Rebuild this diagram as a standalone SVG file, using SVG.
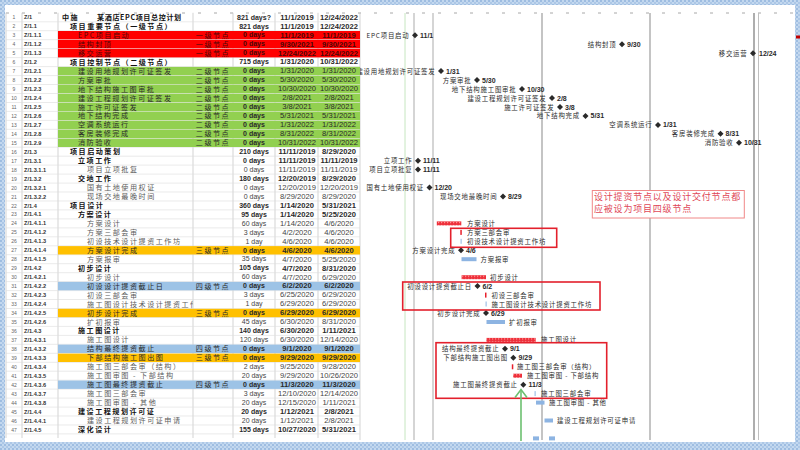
<svg xmlns="http://www.w3.org/2000/svg" width="800" height="450" viewBox="0 0 800 450">
<defs>
<style>
.nm{font-family:"Noto Sans CJK SC",sans-serif;font-size:7.1px;letter-spacing:1.5px;fill:#5c5c5c}
.tp{text-anchor:middle}
.b{font-weight:bold;fill:#111}
.du{font-family:"Liberation Sans",sans-serif;font-size:7px;text-anchor:middle;fill:#444}
.dt{font-family:"Liberation Sans",sans-serif;font-size:7.6px;text-anchor:middle;fill:#444}
.wbs{font-family:"Liberation Sans",sans-serif;font-size:5.6px;font-weight:bold;fill:#333}
.num{font-family:"Liberation Sans",sans-serif;font-size:5px;fill:#666;text-anchor:middle}
.rt{fill:#4a0808}
.dk{fill:#2a2a2a}
.k{font-weight:bold}
.red{fill:#ff0000}
.grn{fill:#92d050}
.org{fill:#ffc000}
.blu{fill:#9dc3e6}
.gl{font-family:"Noto Sans CJK SC",sans-serif;font-size:6.4px;letter-spacing:.8px;fill:#2a2a2a}
.ge{text-anchor:end}
.gd{font-family:"Liberation Sans",sans-serif;font-size:7px;font-weight:bold;fill:#2a2a2a}
.cb{fill:url(#rp)}
.bb{fill:#8db4e2}
.box{fill:none;stroke:#e3202c;stroke-width:1.6}
.nt{font-family:"Noto Sans CJK SC",sans-serif;font-size:9px;letter-spacing:.8px;fill:#e04858}
</style>
<pattern id="fp" width="4" height="4" patternUnits="userSpaceOnUse">
<rect width="4" height="4" fill="#c3d8ef"/>
<circle cx="1" cy="1" r="0.8" fill="#6f9bd0"/>
<circle cx="3" cy="3" r="0.8" fill="#8fb2dc"/>
</pattern>
<pattern id="rp" width="3" height="3" patternUnits="userSpaceOnUse">
<rect width="3" height="3" fill="#ee2f3a"/>
<rect width="1.2" height="1.2" fill="#ff9a9a"/>
</pattern>
<path id="dm" d="M0,-3 L3,0 L0,3 L-3,0Z" fill="#2a2a2a"/>
<clipPath id="gc" clipPathUnits="userSpaceOnUse"><rect x="360" y="-20" width="436" height="40"/></clipPath>
<clipPath id="nc" clipPathUnits="userSpaceOnUse"><rect x="58" y="-20" width="135" height="40"/></clipPath>
</defs>

<rect x="0" y="0" width="800" height="450" fill="url(#fp)"/>
<rect x="5" y="5" width="790" height="437" fill="#ffffff"/>

<g id="grid">
<line x1="6" y1="13" x2="795" y2="13" stroke="#a8a8a8" stroke-width="1" stroke-dasharray="3 13"/>
<path d="M6,12.8V438 M22,12.8V438 M58,12.8V438 M193,12.8V438 M233,12.8V438 M275,12.8V438 M318,12.8V438 M360,12.8V440" stroke="#c8c8c8" stroke-width="0.8" fill="none"/>
<path d="M405,13V440" stroke="#c6e6c0" stroke-width="1"/>
<path d="M414,13V440 M433,13V440" stroke="#c4c4c4" stroke-width="1.4"/>
<path d="M542,13V440 M650,13V440" stroke="#acacac" stroke-width="1.4"/>
<path d="M754,13V440" stroke="#9a9a9a" stroke-width="1.6"/>
<path d="M758.5,13V440" stroke="#c0c0c0" stroke-width="1"/>
<path d="M6,21.8H360 M6,30.7H360 M6,39.7H360 M6,48.7H360 M6,57.6H360 M6,66.6H360 M6,75.6H360 M6,84.5H360 M6,93.5H360 M6,102.5H360 M6,111.4H360 M6,120.4H360 M6,129.3H360 M6,138.3H360 M6,147.2H360 M6,156.2H360 M6,165.1H360 M6,174.1H360 M6,183.1H360 M6,192H360 M6,201H360 M6,209.9H360 M6,218.9H360 M6,227.9H360 M6,236.8H360 M6,245.8H360 M6,254.7H360 M6,263.7H360 M6,272.7H360 M6,281.6H360 M6,290.6H360 M6,299.5H360 M6,308.5H360 M6,317.5H360 M6,326.4H360 M6,335.4H360 M6,344.3H360 M6,353.3H360 M6,362.3H360 M6,371.2H360 M6,380.2H360 M6,389.1H360 M6,398.1H360 M6,407.1H360 M6,416H360 M6,425H360 M6,433.9H360" stroke="#dcdcdc" stroke-width="0.6" fill="none"/>
</g>

<g id="r1" transform="translate(0,12.8)">
<text class="num" x="14" y="6.5">1</text><text class="wbs" x="24" y="6.5">Z/1</text>
<text class="nm b" x="62" y="7">中施</text><text class="nm b" x="97" y="7" style="letter-spacing:.6px">某酒店EPC项目总控计划</text>
<text class="du k dk" x="254" y="6.8">821 days?</text><text class="dt k dk" x="297" y="6.8">11/1/2019</text><text class="dt k dk" x="339" y="6.8">12/24/2022</text>
</g>
<g id="r2" transform="translate(0,21.8)">
<text class="num" x="14" y="6.5">2</text><text class="wbs" x="24" y="6.5">Z/1.1</text>
<text class="nm b" x="70" y="7">项目重要节点（一级节点）</text>
<text class="du k dk" x="254" y="6.8">821 days</text><text class="dt k dk" x="297" y="6.8">11/1/2019</text><text class="dt k dk" x="339" y="6.8">12/24/2022</text>
</g>
<g id="r3" transform="translate(0,30.7)">
<rect class="red" x="58" y="0.3" width="302" height="8.4"/>
<text class="num" x="14" y="6.5">3</text><text class="wbs" x="24" y="6.5">Z/1.1.1</text>
<text class="nm rt" x="78" y="7">EPC项目启动</text><text class="nm tp rt" x="213" y="7">一级节点</text>
<text class="du k rt" x="254" y="6.8">0 days</text><text class="dt k rt" x="297" y="6.8">11/1/2019</text><text class="dt k rt" x="339" y="6.8">11/1/2019</text>
<g clip-path="url(#gc)"><text class="gl ge" x="409.5" y="7">EPC项目启动</text><use href="#dm" x="415" y="4.5"/><text class="gd" x="420" y="7">11/1</text></g>
</g>
<g id="r4" transform="translate(0,39.7)">
<rect class="red" x="58" y="0.3" width="302" height="8.4"/>
<text class="num" x="14" y="6.5">4</text><text class="wbs" x="24" y="6.5">Z/1.1.2</text>
<text class="nm rt" x="78" y="7">结构封顶</text><text class="nm tp rt" x="213" y="7">一级节点</text>
<text class="du k rt" x="254" y="6.8">0 days</text><text class="dt k rt" x="297" y="6.8">9/30/2021</text><text class="dt k rt" x="339" y="6.8">9/30/2021</text>
<g clip-path="url(#gc)"><text class="gl ge" x="616.5" y="7">结构封顶</text><use href="#dm" x="622" y="4.5"/><text class="gd" x="627" y="7">9/30</text></g>
</g>
<g id="r5" transform="translate(0,48.7)">
<rect class="red" x="58" y="0.3" width="302" height="8.4"/>
<text class="num" x="14" y="6.5">5</text><text class="wbs" x="24" y="6.5">Z/1.1.3</text>
<text class="nm rt" x="78" y="7">移交运营</text><text class="nm tp rt" x="213" y="7">一级节点</text>
<text class="du k rt" x="254" y="6.8">0 days</text><text class="dt k rt" x="297" y="6.8">12/24/2022</text><text class="dt k rt" x="339" y="6.8">12/24/2022</text>
<g clip-path="url(#gc)"><text class="gl ge" x="747.5" y="7">移交运营</text><use href="#dm" x="753" y="4.5"/><text class="gd" x="759" y="7">12/24</text></g>
</g>
<g id="r6" transform="translate(0,57.6)">
<text class="num" x="14" y="6.5">6</text><text class="wbs" x="24" y="6.5">Z/1.2</text>
<text class="nm b" x="70" y="7">项目控制节点（二级节点）</text>
<text class="du k dk" x="254" y="6.8">715 days</text><text class="dt k dk" x="297" y="6.8">1/31/2020</text><text class="dt k dk" x="339" y="6.8">10/31/2022</text>
</g>
<g id="r7" transform="translate(0,66.6)">
<rect class="grn" x="58" y="0.3" width="302" height="8.4"/>
<text class="num" x="14" y="6.5">7</text><text class="wbs" x="24" y="6.5">Z/1.2.1</text>
<text class="nm dk" x="78" y="7">建设用地规划许可证签发</text><text class="nm tp dk" x="213" y="7">二级节点</text>
<text class="du k dk" x="254" y="6.8">0 days</text><text class="dt dk" x="297" y="6.8">1/31/2020</text><text class="dt dk" x="339" y="6.8">1/31/2020</text>
<g clip-path="url(#gc)"><text class="gl ge" x="435.5" y="7">建设用地规划许可证签发</text><use href="#dm" x="441" y="4.5"/><text class="gd" x="446" y="7">1/31</text></g>
</g>
<g id="r8" transform="translate(0,75.6)">
<rect class="grn" x="58" y="0.3" width="302" height="8.4"/>
<text class="num" x="14" y="6.5">8</text><text class="wbs" x="24" y="6.5">Z/1.2.2</text>
<text class="nm dk" x="78" y="7">方案审批</text><text class="nm tp dk" x="213" y="7">二级节点</text>
<text class="du k dk" x="254" y="6.8">0 days</text><text class="dt dk" x="297" y="6.8">5/30/2020</text><text class="dt dk" x="339" y="6.8">5/30/2020</text>
<g clip-path="url(#gc)"><text class="gl ge" x="471.5" y="7">方案审批</text><use href="#dm" x="477" y="4.5"/><text class="gd" x="482" y="7">5/30</text></g>
</g>
<g id="r9" transform="translate(0,84.5)">
<rect class="grn" x="58" y="0.3" width="302" height="8.4"/>
<text class="num" x="14" y="6.5">9</text><text class="wbs" x="24" y="6.5">Z/1.2.3</text>
<text class="nm dk" x="78" y="7">地下结构施工图审批</text><text class="nm tp dk" x="213" y="7">二级节点</text>
<text class="du k dk" x="254" y="6.8">0 days</text><text class="dt dk" x="297" y="6.8">10/30/2020</text><text class="dt dk" x="339" y="6.8">10/30/2020</text>
<g clip-path="url(#gc)"><text class="gl ge" x="516.5" y="7">地下结构施工图审批</text><use href="#dm" x="522" y="4.5"/><text class="gd" x="527" y="7">10/30</text></g>
</g>
<g id="r10" transform="translate(0,93.5)">
<rect class="grn" x="58" y="0.3" width="302" height="8.4"/>
<text class="num" x="14" y="6.5">10</text><text class="wbs" x="24" y="6.5">Z/1.2.4</text>
<text class="nm dk" x="78" y="7">建设工程规划许可证签发</text><text class="nm tp dk" x="213" y="7">二级节点</text>
<text class="du k dk" x="254" y="6.8">0 days</text><text class="dt dk" x="297" y="6.8">2/8/2021</text><text class="dt dk" x="339" y="6.8">2/8/2021</text>
<g clip-path="url(#gc)"><text class="gl ge" x="546.5" y="7">建设工程规划许可证签发</text><use href="#dm" x="552" y="4.5"/><text class="gd" x="557" y="7">2/8</text></g>
</g>
<g id="r11" transform="translate(0,102.5)">
<rect class="grn" x="58" y="0.3" width="302" height="8.4"/>
<text class="num" x="14" y="6.5">11</text><text class="wbs" x="24" y="6.5">Z/1.2.5</text>
<text class="nm dk" x="78" y="7">施工许可证签发</text><text class="nm tp dk" x="213" y="7">二级节点</text>
<text class="du k dk" x="254" y="6.8">0 days</text><text class="dt dk" x="297" y="6.8">3/8/2021</text><text class="dt dk" x="339" y="6.8">3/8/2021</text>
<g clip-path="url(#gc)"><text class="gl ge" x="554.5" y="7">施工许可证签发</text><use href="#dm" x="560" y="4.5"/><text class="gd" x="565" y="7">3/8</text></g>
</g>
<g id="r12" transform="translate(0,111.4)">
<rect class="grn" x="58" y="0.3" width="302" height="8.4"/>
<text class="num" x="14" y="6.5">12</text><text class="wbs" x="24" y="6.5">Z/1.2.6</text>
<text class="nm dk" x="78" y="7">地下结构完成</text><text class="nm tp dk" x="213" y="7">二级节点</text>
<text class="du k dk" x="254" y="6.8">0 days</text><text class="dt dk" x="297" y="6.8">5/31/2021</text><text class="dt dk" x="339" y="6.8">5/31/2021</text>
<g clip-path="url(#gc)"><text class="gl ge" x="580" y="7">地下结构完成</text><use href="#dm" x="585.5" y="4.5"/><text class="gd" x="590.5" y="7">5/31</text></g>
</g>
<g id="r13" transform="translate(0,120.4)">
<rect class="grn" x="58" y="0.3" width="302" height="8.4"/>
<text class="num" x="14" y="6.5">13</text><text class="wbs" x="24" y="6.5">Z/1.2.7</text>
<text class="nm dk" x="78" y="7">空调系统运行</text><text class="nm tp dk" x="213" y="7">二级节点</text>
<text class="du k dk" x="254" y="6.8">0 days</text><text class="dt dk" x="297" y="6.8">1/31/2022</text><text class="dt dk" x="339" y="6.8">1/31/2022</text>
<g clip-path="url(#gc)"><text class="gl ge" x="652.5" y="7">空调系统运行</text><use href="#dm" x="658" y="4.5"/><text class="gd" x="663" y="7">1/31</text></g>
</g>
<g id="r14" transform="translate(0,129.3)">
<rect class="grn" x="58" y="0.3" width="302" height="8.4"/>
<text class="num" x="14" y="6.5">14</text><text class="wbs" x="24" y="6.5">Z/1.2.8</text>
<text class="nm dk" x="78" y="7">客房装修完成</text><text class="nm tp dk" x="213" y="7">二级节点</text>
<text class="du k dk" x="254" y="6.8">0 days</text><text class="dt dk" x="297" y="6.8">8/31/2022</text><text class="dt dk" x="339" y="6.8">8/31/2022</text>
<g clip-path="url(#gc)"><text class="gl ge" x="715" y="7">客房装修完成</text><use href="#dm" x="720.5" y="4.5"/><text class="gd" x="725.5" y="7">8/31</text></g>
</g>
<g id="r15" transform="translate(0,138.3)">
<rect class="grn" x="58" y="0.3" width="302" height="8.4"/>
<text class="num" x="14" y="6.5">15</text><text class="wbs" x="24" y="6.5">Z/1.2.9</text>
<text class="nm dk" x="78" y="7">消防验收</text><text class="nm tp dk" x="213" y="7">二级节点</text>
<text class="du k dk" x="254" y="6.8">0 days</text><text class="dt dk" x="297" y="6.8">10/31/2022</text><text class="dt dk" x="339" y="6.8">10/31/2022</text>
<g clip-path="url(#gc)"><text class="gl ge" x="733.5" y="7">消防验收</text><use href="#dm" x="739" y="4.5"/><text class="gd" x="744" y="7">10/31</text></g>
</g>
<g id="r16" transform="translate(0,147.2)">
<text class="num" x="14" y="6.5">16</text><text class="wbs" x="24" y="6.5">Z/1.3</text>
<text class="nm b" x="70" y="7">项目启动策划</text>
<text class="du k dk" x="254" y="6.8">210 days</text><text class="dt k dk" x="297" y="6.8">11/11/2019</text><text class="dt k dk" x="339" y="6.8">8/29/2020</text>
</g>
<g id="r17" transform="translate(0,156.2)">
<text class="num" x="14" y="6.5">17</text><text class="wbs" x="24" y="6.5">Z/1.3.1</text>
<text class="nm b" x="78" y="7">立项工作</text>
<text class="du k dk" x="254" y="6.8">0 days</text><text class="dt k dk" x="297" y="6.8">11/11/2019</text><text class="dt k dk" x="339" y="6.8">11/11/2019</text>
<g clip-path="url(#gc)"><text class="gl ge" x="412.5" y="7">立项工作</text><use href="#dm" x="418" y="4.5"/><text class="gd" x="423" y="7">11/11</text></g>
</g>
<g id="r18" transform="translate(0,165.1)">
<text class="num" x="14" y="6.5">18</text><text class="wbs" x="24" y="6.5">Z/1.3.1.1</text>
<text class="nm" x="87" y="7">项目立项批复</text>
<text class="du" x="254" y="6.8">0 days</text><text class="dt" x="297" y="6.8">11/11/2019</text><text class="dt" x="339" y="6.8">11/11/2019</text>
<g clip-path="url(#gc)"><text class="gl ge" x="412.5" y="7">项目立项批复</text><use href="#dm" x="418" y="4.5"/><text class="gd" x="423" y="7">11/11</text></g>
</g>
<g id="r19" transform="translate(0,174.1)">
<text class="num" x="14" y="6.5">19</text><text class="wbs" x="24" y="6.5">Z/1.3.2</text>
<text class="nm b" x="78" y="7">交地工作</text>
<text class="du k dk" x="254" y="6.8">180 days</text><text class="dt k dk" x="297" y="6.8">12/20/2019</text><text class="dt k dk" x="339" y="6.8">8/29/2020</text>
</g>
<g id="r20" transform="translate(0,183.1)">
<text class="num" x="14" y="6.5">20</text><text class="wbs" x="24" y="6.5">Z/1.3.2.1</text>
<text class="nm" x="87" y="7">国有土地使用权证</text>
<text class="du" x="254" y="6.8">0 days</text><text class="dt" x="297" y="6.8">12/20/2019</text><text class="dt" x="339" y="6.8">12/20/2019</text>
<g clip-path="url(#gc)"><text class="gl ge" x="424" y="7">国有土地使用权证</text><use href="#dm" x="429.5" y="4.5"/><text class="gd" x="434.5" y="7">12/20</text></g>
</g>
<g id="r21" transform="translate(0,192)">
<text class="num" x="14" y="6.5">21</text><text class="wbs" x="24" y="6.5">Z/1.3.2.2</text>
<text class="nm" x="87" y="7">现场交地最晚时间</text>
<text class="du" x="254" y="6.8">0 days</text><text class="dt" x="297" y="6.8">8/29/2020</text><text class="dt" x="339" y="6.8">8/29/2020</text>
<g clip-path="url(#gc)"><text class="gl ge" x="497.5" y="7">现场交地最晚时间</text><use href="#dm" x="503" y="4.5"/><text class="gd" x="508" y="7">8/29</text></g>
</g>
<g id="r22" transform="translate(0,201)">
<text class="num" x="14" y="6.5">22</text><text class="wbs" x="24" y="6.5">Z/1.4</text>
<text class="nm b" x="70" y="7">项目设计</text>
<text class="du k dk" x="254" y="6.8">360 days</text><text class="dt k dk" x="297" y="6.8">1/14/2020</text><text class="dt k dk" x="339" y="6.8">5/31/2021</text>
</g>
<g id="r23" transform="translate(0,209.9)">
<text class="num" x="14" y="6.5">23</text><text class="wbs" x="24" y="6.5">Z/1.4.1</text>
<text class="nm b" x="78" y="7">方案设计</text>
<text class="du k dk" x="254" y="6.8">95 days</text><text class="dt k dk" x="297" y="6.8">1/14/2020</text><text class="dt k dk" x="339" y="6.8">5/25/2020</text>
</g>
<g id="r24" transform="translate(0,218.9)">
<text class="num" x="14" y="6.5">24</text><text class="wbs" x="24" y="6.5">Z/1.4.1.1</text>
<text class="nm" x="87" y="7">方案设计</text>
<text class="du" x="254" y="6.8">60 days</text><text class="dt" x="297" y="6.8">1/14/2020</text><text class="dt" x="339" y="6.8">4/6/2020</text>
<g clip-path="url(#gc)"><rect class="cb" x="436.8" y="2.5" width="24.5" height="4"/><text class="gl" x="467" y="7">方案设计</text></g>
</g>
<g id="r25" transform="translate(0,227.9)">
<text class="num" x="14" y="6.5">25</text><text class="wbs" x="24" y="6.5">Z/1.4.1.2</text>
<text class="nm" x="87" y="7">方案三部会审</text>
<text class="du" x="254" y="6.8">3 days</text><text class="dt" x="297" y="6.8">4/2/2020</text><text class="dt" x="339" y="6.8">4/6/2020</text>
<g clip-path="url(#gc)"><rect x="460.3" y="2" width="1.5" height="5" fill="#e8202c"/><text class="gl" x="467" y="7">方案三部会审</text></g>
</g>
<g id="r26" transform="translate(0,236.8)">
<text class="num" x="14" y="6.5">26</text><text class="wbs" x="24" y="6.5">Z/1.4.1.3</text>
<text class="nm" x="87" y="7">初设技术设计提资工作坊</text>
<text class="du" x="254" y="6.8">1 day</text><text class="dt" x="297" y="6.8">4/6/2020</text><text class="dt" x="339" y="6.8">4/6/2020</text>
<g clip-path="url(#gc)"><rect x="460.6" y="2" width="1" height="5" fill="#8db4e2"/><text class="gl" x="467" y="7">初设技术设计提资工作坊</text></g>
</g>
<g id="r27" transform="translate(0,245.8)">
<rect class="org" x="58" y="0.3" width="302" height="8.4"/>
<text class="num" x="14" y="6.5">27</text><text class="wbs" x="24" y="6.5">Z/1.4.1.4</text>
<text class="nm dk" x="87" y="7">方案设计完成</text><text class="nm tp dk" x="213" y="7">三级节点</text>
<text class="du k dk" x="254" y="6.8">0 days</text><text class="dt k dk" x="297" y="6.8">4/6/2020</text><text class="dt k dk" x="339" y="6.8">4/6/2020</text>
<g clip-path="url(#gc)"><text class="gl ge" x="455.5" y="7">方案设计完成</text><use href="#dm" x="461" y="4.5"/><text class="gd" x="466" y="7">4/6</text></g>
</g>
<g id="r28" transform="translate(0,254.7)">
<text class="num" x="14" y="6.5">28</text><text class="wbs" x="24" y="6.5">Z/1.4.1.5</text>
<text class="nm" x="87" y="7">方案报审</text>
<text class="du" x="254" y="6.8">35 days</text><text class="dt" x="297" y="6.8">4/7/2020</text><text class="dt" x="339" y="6.8">5/25/2020</text>
<g clip-path="url(#gc)"><rect class="bb" x="461.5" y="2.5" width="15" height="4"/><text class="gl" x="480.5" y="7">方案报审</text></g>
</g>
<g id="r29" transform="translate(0,263.7)">
<text class="num" x="14" y="6.5">29</text><text class="wbs" x="24" y="6.5">Z/1.4.2</text>
<text class="nm b" x="78" y="7">初步设计</text>
<text class="du k dk" x="254" y="6.8">105 days</text><text class="dt k dk" x="297" y="6.8">4/7/2020</text><text class="dt k dk" x="339" y="6.8">8/31/2020</text>
</g>
<g id="r30" transform="translate(0,272.7)">
<text class="num" x="14" y="6.5">30</text><text class="wbs" x="24" y="6.5">Z/1.4.2.1</text>
<text class="nm" x="87" y="7">初步设计</text>
<text class="du" x="254" y="6.8">60 days</text><text class="dt" x="297" y="6.8">4/7/2020</text><text class="dt" x="339" y="6.8">6/29/2020</text>
<g clip-path="url(#gc)"><rect class="cb" x="461.6" y="2.5" width="24.4" height="4"/><text class="gl" x="490" y="7">初步设计</text></g>
</g>
<g id="r31" transform="translate(0,281.6)">
<rect class="blu" x="58" y="0.3" width="302" height="8.4"/>
<text class="num" x="14" y="6.5">31</text><text class="wbs" x="24" y="6.5">Z/1.4.2.2</text>
<text class="nm dk" x="87" y="7">初设设计提资截止日</text><text class="nm tp dk" x="213" y="7">四级节点</text>
<text class="du k dk" x="254" y="6.8">0 days</text><text class="dt k dk" x="297" y="6.8">6/2/2020</text><text class="dt k dk" x="339" y="6.8">6/2/2020</text>
<g clip-path="url(#gc)"><text class="gl ge" x="472" y="7">初设设计提资截止日</text><use href="#dm" x="477.5" y="4.5"/><text class="gd" x="482.5" y="7">6/2</text></g>
</g>
<g id="r32" transform="translate(0,290.6)">
<text class="num" x="14" y="6.5">32</text><text class="wbs" x="24" y="6.5">Z/1.4.2.3</text>
<text class="nm" x="87" y="7">初设三部会审</text>
<text class="du" x="254" y="6.8">3 days</text><text class="dt" x="297" y="6.8">6/25/2020</text><text class="dt" x="339" y="6.8">6/29/2020</text>
<g clip-path="url(#gc)"><rect x="485" y="2" width="1.5" height="5" fill="#e8202c"/><text class="gl" x="491.5" y="7">初设三部会审</text></g>
</g>
<g id="r33" transform="translate(0,299.5)">
<text class="num" x="14" y="6.5">33</text><text class="wbs" x="24" y="6.5">Z/1.4.2.4</text>
<text class="nm" x="87" y="7" clip-path="url(#nc)">施工图设计技术设计提资工作</text>
<text class="du" x="254" y="6.8">1 day</text><text class="dt" x="297" y="6.8">6/29/2020</text><text class="dt" x="339" y="6.8">6/29/2020</text>
<g clip-path="url(#gc)"><rect x="485.6" y="2" width="1" height="5" fill="#8db4e2"/><text class="gl" x="491.5" y="7">施工图设计技术设计提资工作坊</text></g>
</g>
<g id="r34" transform="translate(0,308.5)">
<rect class="org" x="58" y="0.3" width="302" height="8.4"/>
<text class="num" x="14" y="6.5">34</text><text class="wbs" x="24" y="6.5">Z/1.4.2.5</text>
<text class="nm dk" x="87" y="7">初步设计完成</text><text class="nm tp dk" x="213" y="7">三级节点</text>
<text class="du k dk" x="254" y="6.8">0 days</text><text class="dt k dk" x="297" y="6.8">6/29/2020</text><text class="dt k dk" x="339" y="6.8">6/29/2020</text>
<g clip-path="url(#gc)"><text class="gl ge" x="480.5" y="7">初步设计完成</text><use href="#dm" x="486" y="4.5"/><text class="gd" x="491" y="7">6/29</text></g>
</g>
<g id="r35" transform="translate(0,317.5)">
<text class="num" x="14" y="6.5">35</text><text class="wbs" x="24" y="6.5">Z/1.4.2.6</text>
<text class="nm" x="87" y="7">扩初报审</text>
<text class="du" x="254" y="6.8">45 days</text><text class="dt" x="297" y="6.8">6/30/2020</text><text class="dt" x="339" y="6.8">8/31/2020</text>
<g clip-path="url(#gc)"><rect class="bb" x="486.5" y="2.5" width="18.5" height="4"/><text class="gl" x="509" y="7">扩初报审</text></g>
</g>
<g id="r36" transform="translate(0,326.4)">
<text class="num" x="14" y="6.5">36</text><text class="wbs" x="24" y="6.5">Z/1.4.3</text>
<text class="nm b" x="78" y="7">施工图设计</text>
<text class="du k dk" x="254" y="6.8">140 days</text><text class="dt k dk" x="297" y="6.8">6/30/2020</text><text class="dt k dk" x="339" y="6.8">1/11/2021</text>
</g>
<g id="r37" transform="translate(0,335.4)">
<text class="num" x="14" y="6.5">37</text><text class="wbs" x="24" y="6.5">Z/1.4.3.1</text>
<text class="nm" x="87" y="7">施工图设计</text>
<text class="du" x="254" y="6.8">120 days</text><text class="dt" x="297" y="6.8">6/30/2020</text><text class="dt" x="339" y="6.8">12/14/2020</text>
<g clip-path="url(#gc)"><rect class="cb" x="486.4" y="2.5" width="49.3" height="4"/><text class="gl" x="541" y="7">施工图设计</text></g>
</g>
<g id="r38" transform="translate(0,344.3)">
<rect class="blu" x="58" y="0.3" width="302" height="8.4"/>
<text class="num" x="14" y="6.5">38</text><text class="wbs" x="24" y="6.5">Z/1.4.3.2</text>
<text class="nm dk" x="87" y="7">结构最终提资截止</text><text class="nm tp dk" x="213" y="7">四级节点</text>
<text class="du k dk" x="254" y="6.8">0 days</text><text class="dt k dk" x="297" y="6.8">9/1/2020</text><text class="dt k dk" x="339" y="6.8">9/1/2020</text>
<g clip-path="url(#gc)"><text class="gl ge" x="499.5" y="7">结构最终提资截止</text><use href="#dm" x="505" y="4.5"/><text class="gd" x="510" y="7">9/1</text></g>
</g>
<g id="r39" transform="translate(0,353.3)">
<rect class="org" x="58" y="0.3" width="302" height="8.4"/>
<text class="num" x="14" y="6.5">39</text><text class="wbs" x="24" y="6.5">Z/1.4.3.3</text>
<text class="nm dk" x="87" y="7">下部结构施工图出图</text><text class="nm tp dk" x="213" y="7">三级节点</text>
<text class="du k dk" x="254" y="6.8">0 days</text><text class="dt k dk" x="297" y="6.8">9/29/2020</text><text class="dt k dk" x="339" y="6.8">9/29/2020</text>
<g clip-path="url(#gc)"><text class="gl ge" x="508" y="7">下部结构施工图出图</text><use href="#dm" x="513.3" y="4.5"/><text class="gd" x="518.5" y="7">9/29</text></g>
</g>
<g id="r40" transform="translate(0,362.3)">
<text class="num" x="14" y="6.5">40</text><text class="wbs" x="24" y="6.5">Z/1.4.3.4</text>
<text class="nm" x="87" y="7">施工图三部会审（结构）</text>
<text class="du" x="254" y="6.8">2 days</text><text class="dt" x="297" y="6.8">9/25/2020</text><text class="dt" x="339" y="6.8">9/28/2020</text>
<g clip-path="url(#gc)"><rect x="511.8" y="2" width="1.5" height="5" fill="#e8202c"/><text class="gl" x="517" y="7">施工图三部会审（结构）</text></g>
</g>
<g id="r41" transform="translate(0,371.2)">
<text class="num" x="14" y="6.5">41</text><text class="wbs" x="24" y="6.5">Z/1.4.3.5</text>
<text class="nm" x="87" y="7">施工图审图 - 下部结构</text>
<text class="du" x="254" y="6.8">20 days</text><text class="dt" x="297" y="6.8">9/29/2020</text><text class="dt" x="339" y="6.8">10/26/2020</text>
<g clip-path="url(#gc)"><rect class="cb" x="513.2" y="2.5" width="8.8" height="4"/><text class="gl" x="527" y="7">施工图审图 - 下部结构</text></g>
</g>
<g id="r42" transform="translate(0,380.2)">
<rect class="blu" x="58" y="0.3" width="302" height="8.4"/>
<text class="num" x="14" y="6.5">42</text><text class="wbs" x="24" y="6.5">Z/1.4.3.6</text>
<text class="nm dk" x="87" y="7">施工图最终提资截止</text><text class="nm tp dk" x="213" y="7">四级节点</text>
<text class="du k dk" x="254" y="6.8">0 days</text><text class="dt k dk" x="297" y="6.8">11/3/2020</text><text class="dt k dk" x="339" y="6.8">11/3/2020</text>
<g clip-path="url(#gc)"><text class="gl ge" x="517.8" y="7">施工图最终提资截止</text><use href="#dm" x="523.3" y="4.5"/><text class="gd" x="528.5" y="7">11/3</text></g>
</g>
<g id="r43" transform="translate(0,389.1)">
<text class="num" x="14" y="6.5">43</text><text class="wbs" x="24" y="6.5">Z/1.4.3.7</text>
<text class="nm" x="87" y="7">施工图三部会审</text>
<text class="du" x="254" y="6.8">3 days</text><text class="dt" x="297" y="6.8">12/10/2020</text><text class="dt" x="339" y="6.8">12/14/2020</text>
<g clip-path="url(#gc)"><rect x="534.6" y="2" width="1" height="5" fill="#8db4e2"/><text class="gl" x="541" y="7">施工图三部会审</text></g>
</g>
<g id="r44" transform="translate(0,398.1)">
<text class="num" x="14" y="6.5">44</text><text class="wbs" x="24" y="6.5">Z/1.4.3.8</text>
<text class="nm" x="87" y="7">施工图审图 - 其他</text>
<text class="du" x="254" y="6.8">20 days</text><text class="dt" x="297" y="6.8">12/15/2020</text><text class="dt" x="339" y="6.8">1/11/2021</text>
<g clip-path="url(#gc)"><rect class="bb" x="536" y="2.5" width="8.5" height="4"/><text class="gl" x="549" y="7">施工图审图 - 其他</text></g>
</g>
<g id="r45" transform="translate(0,407.1)">
<text class="num" x="14" y="6.5">45</text><text class="wbs" x="24" y="6.5">Z/1.4.4</text>
<text class="nm b" x="78" y="7">建设工程规划许可证</text>
<text class="du k dk" x="254" y="6.8">20 days</text><text class="dt k dk" x="297" y="6.8">1/12/2021</text><text class="dt k dk" x="339" y="6.8">2/8/2021</text>
</g>
<g id="r46" transform="translate(0,416)">
<text class="num" x="14" y="6.5">46</text><text class="wbs" x="24" y="6.5">Z/1.4.4.1</text>
<text class="nm" x="87" y="7">建设工程规划许可证申请</text>
<text class="du" x="254" y="6.8">20 days</text><text class="dt" x="297" y="6.8">1/12/2021</text><text class="dt" x="339" y="6.8">2/8/2021</text>
<g clip-path="url(#gc)"><rect class="bb" x="544.5" y="2.5" width="8.5" height="4"/><text class="gl" x="557" y="7">建设工程规划许可证申请</text></g>
</g>
<g id="r47" transform="translate(0,425)">
<text class="num" x="14" y="6.5">47</text><text class="wbs" x="24" y="6.5">Z/1.4.5</text>
<text class="nm b" x="78" y="7">深化设计</text>
<text class="du k dk" x="254" y="6.8">155 days</text><text class="dt k dk" x="297" y="6.8">10/27/2020</text><text class="dt k dk" x="339" y="6.8">5/31/2021</text>
</g>
<g id="r48" transform="translate(0,433.9)">
<rect class="bb" x="533" y="2.5" width="6" height="4"/><rect class="bb" x="549" y="2.5" width="6" height="4"/>
</g>

<g id="callouts">
<rect class="box" x="450.7" y="228.3" width="106" height="19"/>
<rect class="box" x="402.7" y="282" width="197.3" height="28"/>
<rect class="box" x="436" y="342.7" width="170.7" height="55.6"/>
</g>

<g id="note">
<rect x="592.3" y="190.5" width="152" height="27.5" fill="#ffffff" stroke="#f08888" stroke-width="1"/>
<text class="nt" x="594" y="199.5">设计提资节点以及设计交付节点都</text>
<text class="nt" x="594" y="211.5">应被设为项目四级节点</text>
</g>

<g id="connectors">
<path d="M521,441V390" stroke="#6cc070" stroke-width="1.6" fill="none"/>
<path d="M515,397.5L521,389.5L527,397.5" stroke="#6cc070" stroke-width="1.6" fill="none"/>
</g>

<g id="frame">
<rect x="0" y="442" width="800" height="8" fill="url(#fp)"/>
<rect x="795" y="0" width="5" height="450" fill="url(#fp)"/>
<rect x="796" y="35.5" width="4" height="3" fill="#c00000"/>
</g>
</svg>
